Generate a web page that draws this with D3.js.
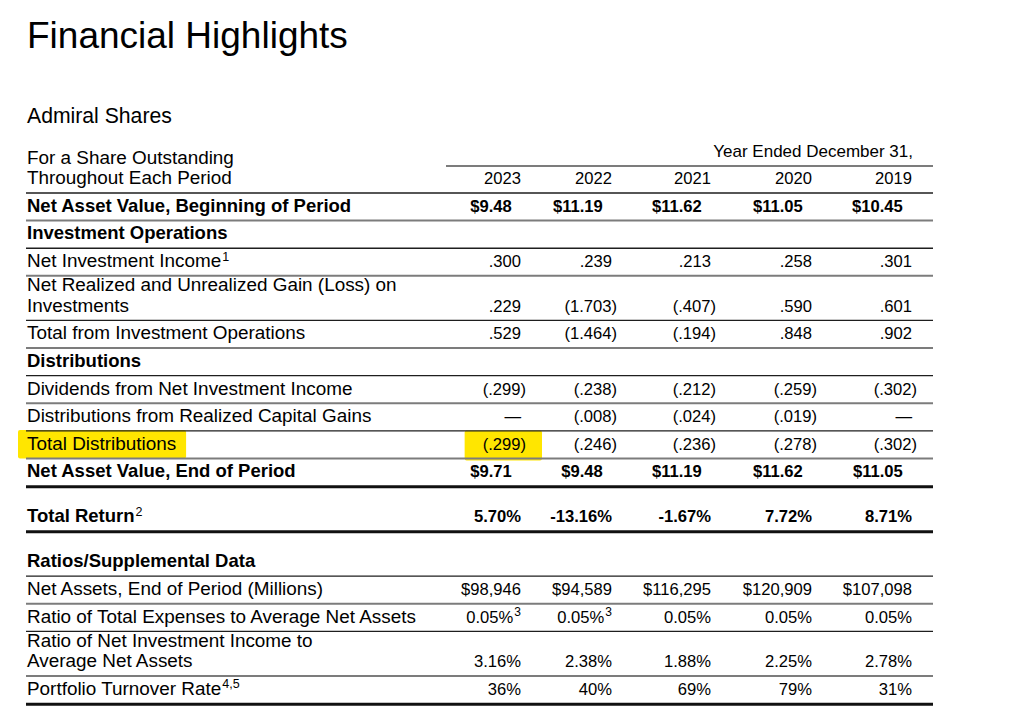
<!DOCTYPE html>
<html><head><meta charset="utf-8">
<script src="https://cdn.jsdelivr.net/npm/d3@7"></script>
<style>
html,body{margin:0;padding:0;background:#fff;}
svg{display:block;font-family:"Liberation Sans",Arial,Helvetica,sans-serif;}
</style></head><body>
<div id="chart"></div>
<script>
// ---------- data ----------
const title = "Financial Highlights";
const subtitle = "Admiral Shares";
const headerLabel = ["For a Share Outstanding", "Throughout Each Period"];
const periodLabel = "Year Ended December 31,";
const years = ["2023", "2022", "2021", "2020", "2019"];

const navBeginning = [9.48, 11.19, 11.62, 11.05, 10.45];
const netInvestmentIncome = [0.300, 0.239, 0.213, 0.258, 0.301];
const netRealizedGain = [0.229, -1.703, -0.407, 0.590, 0.601];
const totalFromOperations = [0.529, -1.464, -0.194, 0.848, 0.902];
const dividends = [-0.299, -0.238, -0.212, -0.259, -0.302];
const capitalGainsDist = [null, -0.008, -0.024, -0.019, null];
const totalDistributions = [-0.299, -0.246, -0.236, -0.278, -0.302];
const navEnd = [9.71, 9.48, 11.19, 11.62, 11.05];
const totalReturn = [5.70, -13.16, -1.67, 7.72, 8.71];
const netAssets = [98946, 94589, 116295, 120909, 107098];
const expenseRatio = [0.05, 0.05, 0.05, 0.05, 0.05];
const expenseRatioNotes = ["3", "3", null, null, null];
const incomeRatio = [3.16, 2.38, 1.88, 2.25, 2.78];
const turnoverRate = [36, 40, 69, 79, 31];

// ---------- formatters ----------
const f2 = d3.format(".2f"), f3 = d3.format(".3f"), fc = d3.format(",");
const fmtMoney = v => "$" + f2(v);
const fmtShare = v => v == null ? "\u2014" :
  (v < 0 ? "(" + f3(-v).replace(/^0/, "") + ")" : f3(v).replace(/^0/, ""));
const fmtPct2 = v => (v < 0 ? "-" : "") + f2(Math.abs(v)) + "%";
const fmtAssets = v => "$" + fc(v);
const fmtPct0 = v => v + "%";

const rows = [
  {label: ["Net Asset Value, Beginning of Period"], bold: true, values: navBeginning, fmt: fmtMoney, shift: true, rule: "gray"},
  {label: ["Investment Operations"], bold: true, rule: "black"},
  {label: ["Net Investment Income"], note: "1", values: netInvestmentIncome, fmt: fmtShare, rule: "gray"},
  {label: ["Net Realized and Unrealized Gain (Loss) on", "Investments"], values: netRealizedGain, fmt: fmtShare, rule: "black"},
  {label: ["Total from Investment Operations"], values: totalFromOperations, fmt: fmtShare, rule: "gray"},
  {label: ["Distributions"], bold: true, rule: "black"},
  {label: ["Dividends from Net Investment Income"], values: dividends, fmt: fmtShare, rule: "gray"},
  {label: ["Distributions from Realized Capital Gains"], values: capitalGainsDist, fmt: fmtShare, rule: "black"},
  {label: ["Total Distributions"], values: totalDistributions, fmt: fmtShare, rule: "gray", highlight: [0]},
  {label: ["Net Asset Value, End of Period"], bold: true, values: navEnd, fmt: fmtMoney, shift: true, rule: "thick"},
  {label: ["Total Return"], note: "2", bold: true, values: totalReturn, fmt: fmtPct2, rule: "thick", tall: true},
  {label: ["Ratios/Supplemental Data"], bold: true, rule: "black", tall: true},
  {label: ["Net Assets, End of Period (Millions)"], values: netAssets, fmt: fmtAssets, rule: "gray"},
  {label: ["Ratio of Total Expenses to Average Net Assets"], values: expenseRatio, notes: expenseRatioNotes, fmt: fmtPct2, rule: "black"},
  {label: ["Ratio of Net Investment Income to", "Average Net Assets"], values: incomeRatio, fmt: fmtPct2, rule: "gray"},
  {label: ["Portfolio Turnover Rate"], note: "4,5", values: turnoverRate, fmt: fmtPct0, rule: "thick"}
];

// ---------- layout ----------
const W = 1016, H = 711;
const left = 27, right = 933;
const labelSize = 18.9, boldSize = 18.5, numSize = 16.6;
const singleH = 27.62, doubleH = 44.6, tallH = 45, lineGap = 20.5, baseOff = 8.8;
const headerBottom = 193;
const ruleStyle = {
  black: {stroke: "#1e1e1e", w: 1.3},
  gray: {stroke: "#7c7c7c", w: 2},
  thick: {stroke: "#111", w: 3}
};

const x = d3.scaleOrdinal().domain(years).range([521, 612, 711, 812, 912]);

let yCursor = headerBottom;
rows.forEach(r => {
  const h = r.tall ? tallH : (r.label.length > 1 ? doubleH : singleH);
  r.top = yCursor;
  r.bottom = yCursor + h;
  yCursor += h;
});

const svg = d3.select("#chart").append("svg").attr("width", W).attr("height", H);
svg.append("rect").attr("width", W).attr("height", H).attr("fill", "#fff");

const hlLayer = svg.append("g");
const ruleLayer = svg.append("g");
const textLayer = svg.append("g").attr("fill", "#000");

// title
textLayer.append("text").attr("x", left).attr("y", 48).attr("font-size", 37).text(title);
textLayer.append("text").attr("x", left).attr("y", 123).attr("font-size", 21.2).text(subtitle);

// multi-line label helper: one text element, one tspan per line
function multiLine(g, lines, xPos, lastBase, size, weight, note) {
  const n = lines.length;
  const t = g.append("text").attr("x", xPos).attr("y", lastBase - (n - 1) * lineGap)
    .attr("font-size", size).attr("font-weight", weight);
  lines.forEach((s, i) => {
    t.append("tspan").attr("x", xPos).attr("dy", i === 0 ? 0 : lineGap).text(s);
  });
  if (note) {
    t.append("tspan").attr("dy", -6.5).attr("dx", 1).attr("font-size", 12.5)
      .attr("font-weight", "normal").text(note);
  }
  return t;
}

// header
textLayer.append("text").attr("x", right - 20).attr("y", 157).attr("text-anchor", "end")
  .attr("font-size", 17).text(periodLabel);
ruleLayer.append("line").attr("x1", 446).attr("x2", right).attr("y1", 166).attr("y2", 166)
  .attr("stroke", ruleStyle.gray.stroke).attr("stroke-width", ruleStyle.gray.w);
multiLine(textLayer, headerLabel, left, headerBottom - baseOff, labelSize, "normal");
textLayer.selectAll("text.year").data(years).join("text").attr("class", "year")
  .attr("x", d => x(d)).attr("y", headerBottom - baseOff - 0.2).attr("text-anchor", "end")
  .attr("font-size", numSize).text(d => d);
ruleLayer.append("line").attr("x1", left - 1).attr("x2", right).attr("y1", headerBottom).attr("y2", headerBottom)
  .attr("stroke", ruleStyle.black.stroke).attr("stroke-width", ruleStyle.black.w);

// rows
rows.forEach(r => {
  const st = ruleStyle[r.rule];
  const ry = r.bottom + (r.rule === "thick" ? 0.5 : 0);
  ruleLayer.append("line").attr("x1", left - 1).attr("x2", right)
    .attr("y1", ry).attr("y2", ry)
    .attr("stroke", st.stroke).attr("stroke-width", st.w);

  const base = r.bottom - baseOff;
  const lab = multiLine(textLayer, r.label, left, base,
    r.bold ? boldSize : labelSize, r.bold ? "bold" : "normal", r.note);

  if (r.values) {
    const digitW = numSize * 0.556;
    r.values.forEach((v, i) => {
      const s = r.fmt(v);
      let xx = x(years[i]);
      if (r.shift) xx -= digitW;
      if (s.endsWith(")")) xx += 5;
      const tx = textLayer.append("text").attr("x", xx).attr("y", base)
        .attr("text-anchor", "end").attr("font-size", numSize)
        .attr("font-weight", r.bold ? "bold" : "normal");
      tx.append("tspan").text(s);
      if (r.notes && r.notes[i]) {
        tx.append("tspan").attr("dy", -6.5).attr("dx", 1).attr("font-size", 12).text(r.notes[i]);
      }
      if (r.highlight && r.highlight.includes(i)) {
        const b = tx.node().getBBox();
        hlLayer.append("rect").attr("x", b.x - 18).attr("y", r.top - 0.5)
          .attr("width", b.width + 34).attr("height", r.bottom - r.top + 2.5)
          .attr("rx", 2).attr("fill", "#ffe600");
      }
    });
  }
  if (r.highlight) {
    const b = lab.node().getBBox();
    hlLayer.append("rect").attr("x", b.x - 9).attr("y", r.top - 1)
      .attr("width", b.width + 19).attr("height", r.bottom - r.top + 1)
      .attr("rx", 2).attr("fill", "#ffe600");
  }
});
</script>
</body></html>
